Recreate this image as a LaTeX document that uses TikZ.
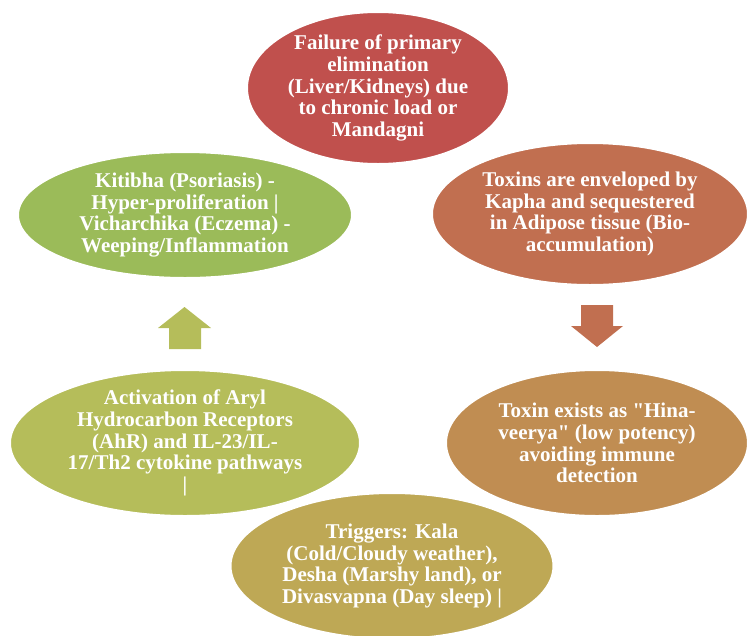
\documentclass[tikz,border=0pt]{standalone}
\usepackage{fontspec}
\setmainfont{Liberation Serif}[Ligatures=TeXOff]
\usetikzlibrary{shapes.geometric}
\definecolor{failred}{HTML}{C0504D}
\definecolor{toxbrown}{HTML}{C16F50}
\definecolor{hinbrown}{HTML}{C08D52}
\definecolor{trigolive}{HTML}{BEA855}
\definecolor{actolive}{HTML}{B5BD5A}
\definecolor{kitgreen}{HTML}{9BBB59}
\tikzset{
    bubble/.style={
        ellipse,
        draw=white,
        line width=2pt,
        inner sep=0pt
    },
    bubtext/.style={
        text=white,
        align=center,
        inner sep=0pt,
        font={\fontsize{21pt}{21.7pt}\bfseries\selectfont}
    },
    blockarrow/.style={draw=none},
}

\begin{document}
\begin{tikzpicture}[x=1pt, y=-1pt]
\useasboundingbox (0,0) rectangle (749,635);
\node[bubble,fill=kitgreen,minimum width=334,minimum height=126] (kit) at (185,215) {};
\node[bubble,fill=failred,minimum width=262,minimum height=152] (fail) at (378,88) {};
\node[bubble,fill=toxbrown,minimum width=316,minimum height=142] (tox) at (590,214) {};
\node[bubble,fill=actolive,minimum width=350,minimum height=146] (act) at (185,443) {};
\node[bubble,fill=hinbrown,minimum width=302,minimum height=146] (hin) at (597,443) {};
\node[bubble,fill=trigolive,minimum width=323,minimum height=146] (trig) at (392,566) {};

\node[bubtext] (failtxt) at (fail) {Failure of primary\\elimination\\(Liver/Kidneys) due\\to chronic load or\\Mandagni};
\node[bubtext] (toxtxt) at (tox) {Toxins are enveloped by\\Kapha and sequestered\\in Adipose tissue (Bio-\\accumulation)};
\node[bubtext] (hintxt) at (hin) {Toxin exists as "Hina-\\veerya" (low potency)\\avoiding immune\\detection};
\node[bubtext] (trigtxt) at (trig) {Triggers: Kala\\(Cold/Cloudy weather),\\Desha (Marshy land), or\\Divasvapna (Day sleep) |};
\node[bubtext] (acttxt) at (act) {Activation of Aryl\\Hydrocarbon Receptors\\(AhR) and IL-23/IL-\\17/Th2 cytokine pathways\\|};
\node[bubtext] (kittxt) at (kit) {Kitibha (Psoriasis) -\\Hyper-proliferation |\\Vicharchika (Eczema) -\\Weeping/Inflammation};

% block arrows
\fill[blockarrow,toxbrown] (581,305) -- (613,305) -- (613,326) -- (623,326)
    -- (597,347) -- (571,326) -- (581,326) -- cycle;
\fill[blockarrow,actolive] (169,349) -- (201,349) -- (201,328) -- (211,328)
    -- (184.5,307) -- (158,328) -- (169,328) -- cycle;
\end{tikzpicture}
\end{document}
